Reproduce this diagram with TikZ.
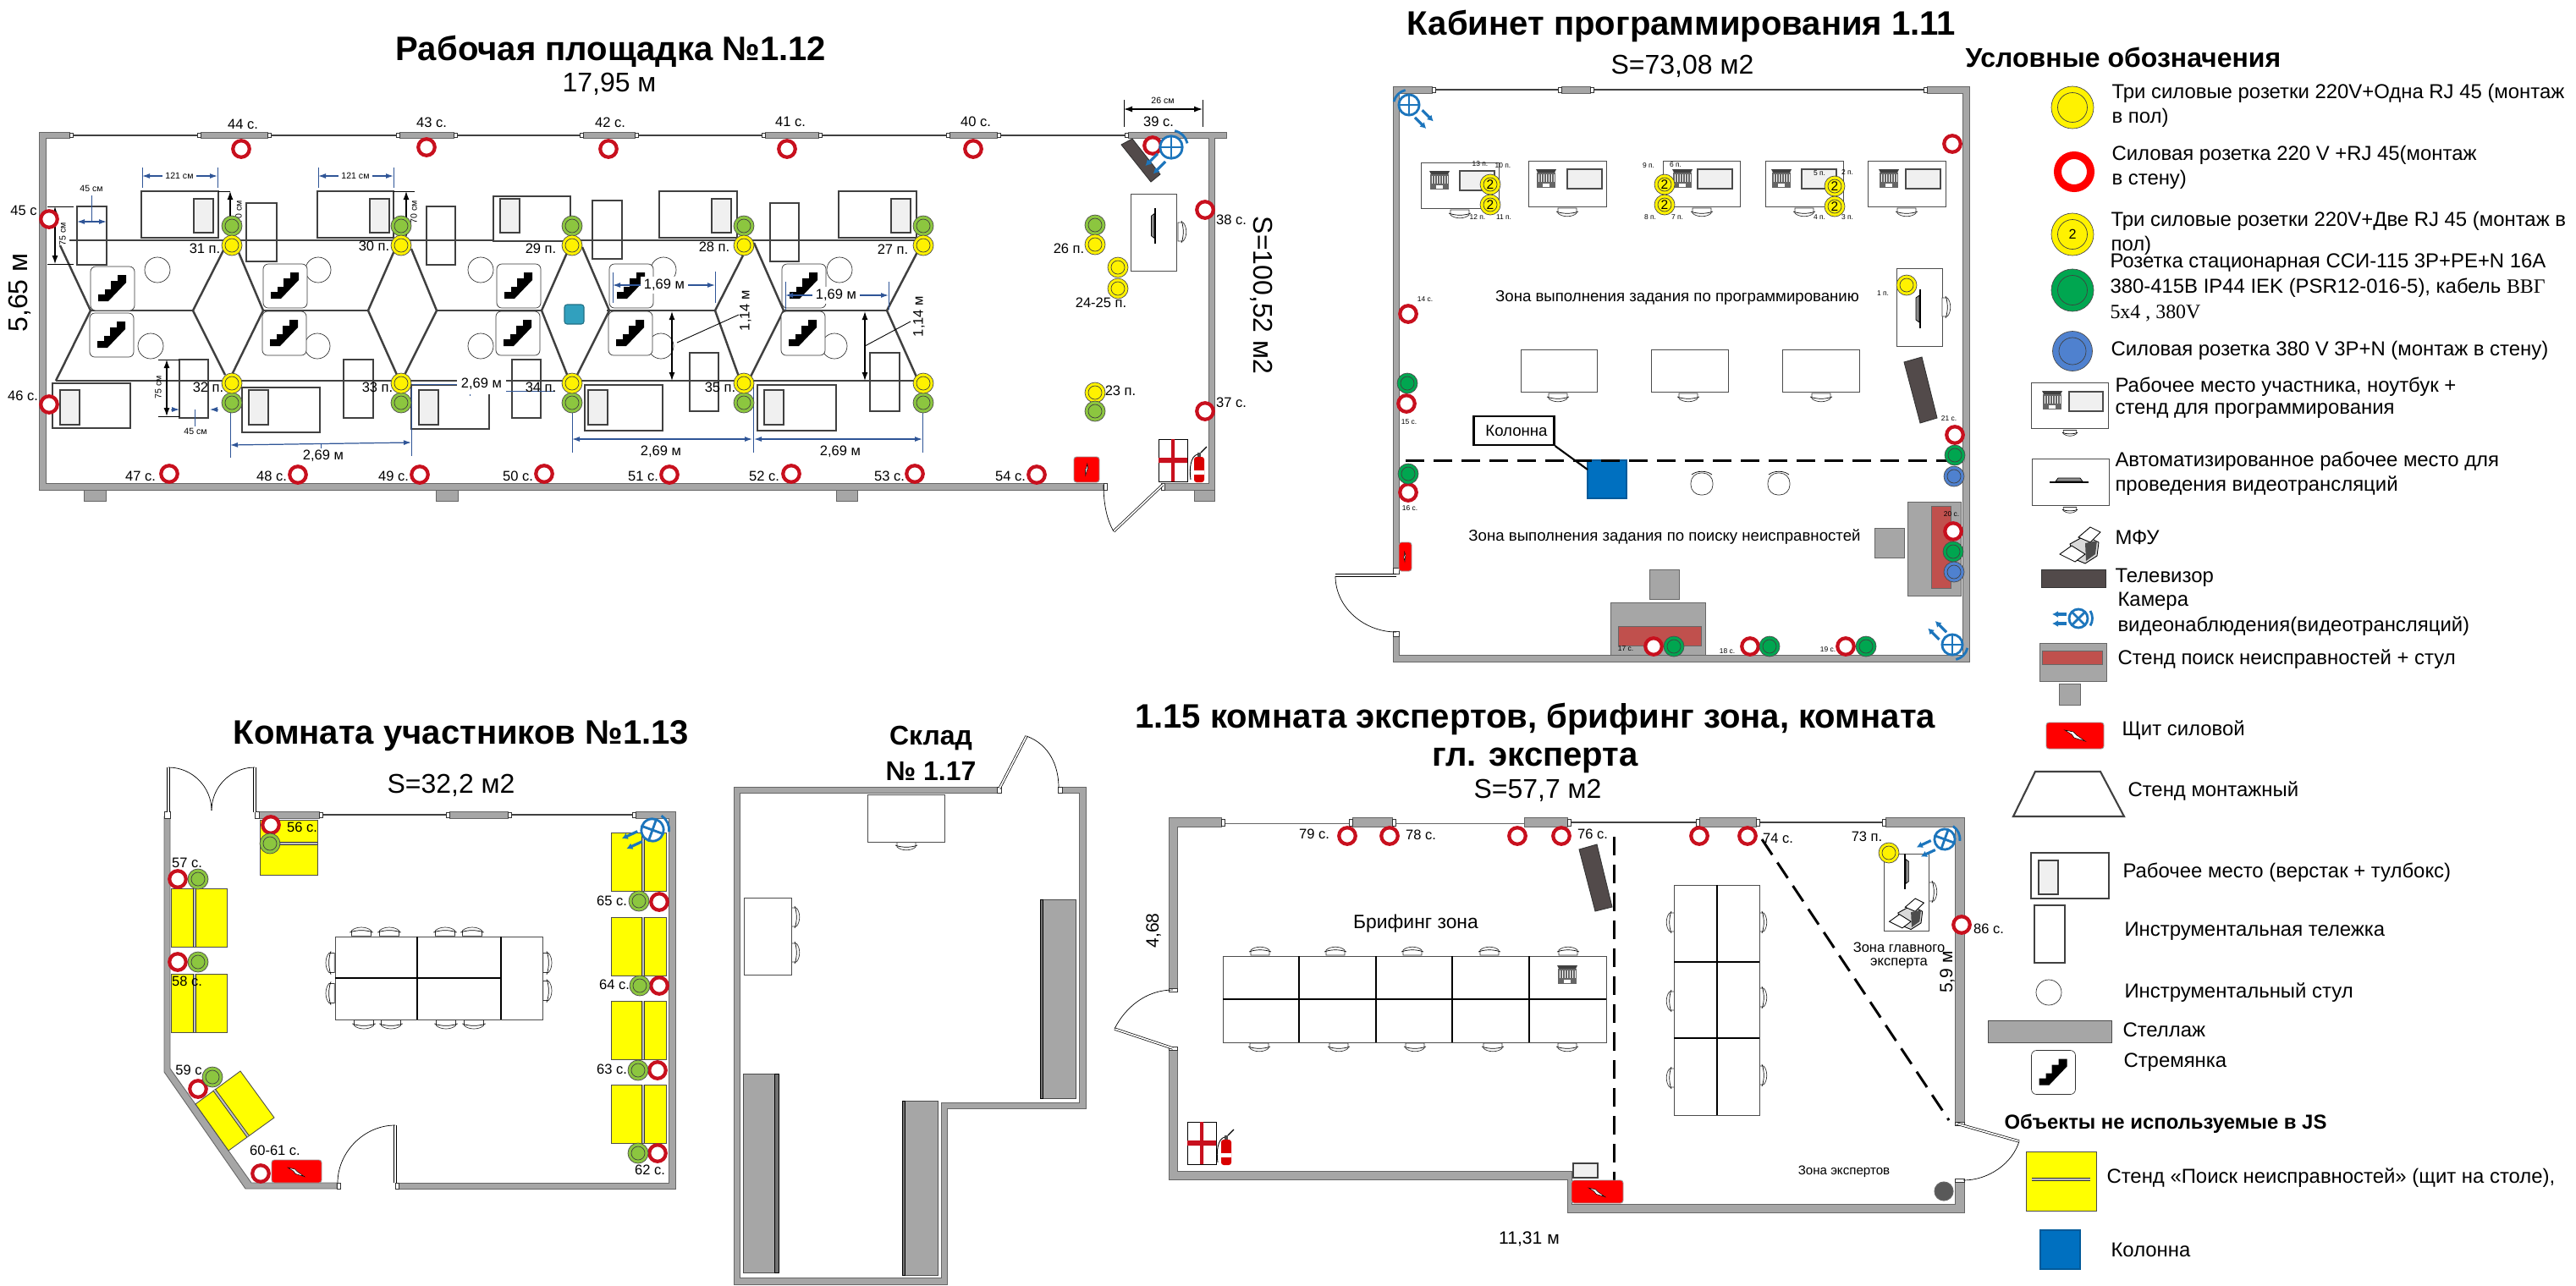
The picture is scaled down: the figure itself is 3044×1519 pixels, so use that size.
\documentclass[tikz,border=0pt]{standalone}
\usepackage{fontspec}
\setmainfont{Liberation Sans}
\newfontfamily\serifpart{Liberation Serif}
\usetikzlibrary{arrows.meta}
\tikzset{every picture/.style={line width=0.3pt}}
\definecolor{wallgray}{HTML}{A6A6A6}
\definecolor{inkgray}{HTML}{404040}
\definecolor{tvgray}{HTML}{524A4A}
\definecolor{ringred}{HTML}{C8101E}
\definecolor{brightred}{HTML}{FF0000}
\definecolor{sockyellow}{HTML}{FFF200}
\definecolor{standyellow}{HTML}{FFFF00}
\definecolor{limegreen}{HTML}{8CC63F}
\definecolor{deepgreen}{HTML}{00A650}
\definecolor{sockblue}{HTML}{4F81CF}
\definecolor{columnblue}{HTML}{0070C0}
\definecolor{tealbox}{HTML}{31A0BE}
\definecolor{dimblue}{HTML}{2F5597}
\definecolor{camblue}{HTML}{1C75BC}
\definecolor{standred}{HTML}{C0504D}
\tikzset{
  walls/.style={fill=wallgray,draw=black!60,line width=0.25pt},
  jamb/.style={fill=white,draw=black!80,line width=0.2pt},
  windowline/.style={draw=black!75,line width=0.4pt},
  doubleglass/.style={draw=black!60,double=white,double distance=0.35pt,line width=0.25pt},
  doorleaf/.style={draw=black,double=white,double distance=0.5pt,line width=0.2pt},
  doorarc/.style={draw=black,line width=0.2pt},
  hexline/.style={draw=inkgray,line width=0.7pt},
  benchline/.style={draw=inkgray,line width=0.75pt,fill=white},
  toolbox/.style={draw=inkgray,fill=black!6,line width=0.3pt},
  cartline/.style={draw=inkgray,line width=0.8pt},
  stoolline/.style={draw=black!80,line width=0.2pt,fill=white},
  desk/.style={draw=black!70,line width=0.25pt,fill=white},
  rackbody/.style={draw=black!70,fill=wallgray,line width=0.25pt},
  rackstrip/.style={draw=black,fill=black!55,line width=0.2pt},
  standbox/.style={draw=black!70,fill=standyellow,line width=0.25pt},
  standbar/.style={draw=black!80,double=black!25,double distance=0.6pt,line width=0.25pt},
  greybox/.style={draw=black!60,fill=wallgray,line width=0.25pt},
  redbox/.style={draw=black!60,fill=standred,line width=0.25pt},
  panelbox/.style={draw=black!40,fill=brightred,rounded corners=0.3mm,line width=0.25pt},
  tvbox/.style={draw=black!80,fill=tvgray,line width=0.25pt},
  dimline/.style={draw=dimblue,line width=0.35pt,{Latex[length=0.9mm,width=0.6mm]}-{Latex[length=0.9mm,width=0.6mm]}},
  dimtick/.style={draw=dimblue,line width=0.25pt},
  blackdim/.style={draw=black,line width=0.35pt,{Latex[length=1mm,width=0.7mm]}-{Latex[length=1mm,width=0.7mm]}},
  blacktick/.style={draw=black,line width=0.25pt},
  dashzone/.style={draw=black,line width=0.85pt,dash pattern=on 2.2mm off 1.1mm},
  sock/.style={circle,draw=black!70,line width=0.2pt,inner sep=0pt,minimum size=2.4mm},
  ring/.style={path picture={\draw[black!75,line width=0.2pt] (path picture bounding box.center) circle (#1);}},
  sockY/.style={sock,fill=sockyellow,ring=0.8mm},
  sockL/.style={sock,fill=limegreen,ring=0.8mm},
  sockG/.style={sock,fill=deepgreen,ring=0.8mm},
  sockB/.style={sock,fill=sockblue,ring=0.8mm},
  sockR/.style={circle,draw=ringred,line width=0.42mm,fill=white,inner sep=0pt,minimum size=1.95mm},
  bigsock/.style={minimum size=5mm,ring=1.75mm},
  titletxt/.style={font=\fontsize{11.4}{13}\selectfont\bfseries,inner sep=0pt},
  areatxt/.style={font=\fontsize{9.1}{11}\selectfont,inner sep=0pt},
  boldarea/.style={font=\fontsize{9.1}{11}\selectfont\bfseries,inner sep=0pt},
  legtxt/.style={font=\fontsize{6.8}{8}\selectfont,anchor=west,inner sep=0pt},
  zonetxt/.style={font=\fontsize{5.3}{6}\selectfont,inner sep=0pt},
  sizetxt/.style={font=\fontsize{6}{7}\selectfont,inner sep=0pt},
  lbl/.style={font=\fontsize{4.7}{5.5}\selectfont,inner sep=0pt},
  dimtxt/.style={font=\fontsize{3}{3.6}\selectfont,inner sep=0pt},
  tinylbl/.style={font=\fontsize{2.4}{3}\selectfont,inner sep=0pt},
  seat/.pic={
    \draw[stoolline] (-11,-5) -- (11,-5) -- (11,1) .. controls (6,6) and (-6,6) .. (-11,1) -- cycle;
    \draw[line width=0.2pt] (-13,-1) .. controls (-6,2) and (6,2) .. (13,-1);
  },
  armseat/.pic={
    \draw[stoolline,rounded corners=1.2mm] (-13,-11) rectangle (13,15);
    \draw[line width=0.2pt] (-12,-9) .. controls (-6,-14) and (6,-14) .. (12,-9);
  },
  laptop/.pic={
    \fill[black!75] (-12,-11) -- (12,-11) -- (10,-7) -- (-10,-7) -- cycle;
    \fill[black!60] (-11,-7) rectangle (11,11);
    \draw[white,line width=0.15pt,step=3] (-9,-5) grid (9,4);
    \fill[white] (-4,6) rectangle (4,10);
  },
  camera/.pic={
    \draw[camblue,line width=0.8pt,fill=white] (0,0) circle (11);
    \draw[camblue,line width=0.8pt] (-7.5,-7.5) -- (7.5,7.5) (-7.5,7.5) -- (7.5,-7.5);
    \draw[camblue,line width=0.8pt] (14,-9) arc (-32:32:16.5);
    \draw[camblue,line width=0.9pt,-{Latex[length=0.7mm,width=0.8mm]}] (-14,-5) -- (-31,-5);
    \draw[camblue,line width=0.9pt,{Latex[length=0.7mm,width=0.8mm]}-] (-31,6) -- (-14,6);
  },
  monitor/.pic={
    \fill[black!45,draw=black,line width=0.2pt] (-16,0) -- (-13,-4) -- (13,-4) -- (16,0) -- cycle;
    \draw[line width=0.5pt] (-23,1) -- (23,1);
  },
  printer/.pic={
    \draw[fill=black!15,line width=0.25pt] (-12,0) -- (6,-10) -- (22,-2) -- (20,14) -- (6,23) -- (-6,18) -- cycle;
    \draw[fill=white,line width=0.25pt] (-2,-8) -- (12,-20) -- (24,-14) -- (12,-2) -- cycle;
    \draw[fill=white,line width=0.25pt] (-24,12) -- (-10,2) -- (6,12) -- (-6,21) -- cycle;
    \fill[black!70] (6,-1) -- (20,-4) -- (18,12) -- (7,20) -- cycle;
  },
  ladderbox/.pic={
    \draw[stoolline,rounded corners=0.6mm] (-26,-26) rectangle (26,26);
    \fill[black] (-17,15) -- (-17,7) -- (-9,7) -- (-9,1) -- (-2,1) -- (-2,-9) -- (6,-9) -- (6,-16) -- (16,-16) -- (16,-7) -- (-5,15) -- cycle;
  },
  boltmark/.pic={
    \draw[fill=white,line width=0.15pt] (-12,-6) -- (-2,-4) -- (2,0) -- (12,7) -- (-1,3) -- (-4,-1) -- cycle;
  },
  firebox/.pic={
    \draw[fill=white,line width=0.25pt] (-17,-25) rectangle (17,25);
    \fill[ringred] (-2,-25) rectangle (2,25) (-17,-3) rectangle (17,3);
  },
  extinguisher/.pic={
    \fill[brightred!85!black,rounded corners=0.3mm] (-6,-9) rectangle (6,21);
    \fill[white] (-6,7) rectangle (6,12);
    \fill[black!70] (-2,-14) rectangle (2,-9);
    \draw[line width=0.25pt] (-2,-12) .. controls (-10,-10) and (-12,5) .. (-10,18);
    \draw[line width=0.35pt] (2,-14) -- (9,-21);
  }
}
\begin{document}
\begin{tikzpicture}[x=0.1mm,y=-0.1mm]
  \useasboundingbox (0,0) rectangle (3044,1519);
  \fill[white] (0,0) rectangle (3044,1519);

  \path (722,61) node[titletxt] (title12) {Рабочая площадка №1.12};
  \path (720,99) node[areatxt] (len12) {17,95 м};
  \path (23,346) node[areatxt,rotate=90] (wid12) {5,65 м};
  \path (1491,349) node[areatxt,rotate=-90] (area12) {S=100,52 м2};
  \draw[windowline] (82,160) -- (1333,160);
  \draw[walls] (82,156) -- (46,156) -- (46,579) -- (1304,579) -- (1304,571) -- (54,571) -- (54,163) -- (82,163) -- cycle;
  \draw[walls] (1333,156) -- (1449,156) -- (1449,163) -- (1435,163) -- (1435,579) -- (1374,579) -- (1374,571) -- (1428,571) -- (1428,163) -- (1333,163) -- cycle;
  \foreach \xa/\xb in {99/125,515/541,988/1013,1411/1435}
    \draw[walls] (\xa,579) rectangle (\xb,592);
  \foreach \xa/\xb in {237/316,472/536,689/750,904/967,1122/1178} {
    \draw[walls] (\xa,156.5) rectangle (\xb,163);
    \draw[jamb] (\xa-4,157) rectangle (\xa,162);
    \draw[jamb] (\xb,157) rectangle (\xb+4,162);
  }
  \draw[jamb] (1329,157) rectangle (1333,162);
  \draw[jamb] (82,157) rectangle (86,162);
  \draw[jamb] (1304,571) rectangle (1308,579);
  \draw[jamb] (1372,571) rectangle (1376,579);
  \draw[doorleaf] (1374,573) -- (1316,628);
  \draw[doorarc] (1304,573) .. controls (1304,595) and (1308,615) .. (1316,628);

  \draw[hexline] (82,284) -- (1091,284) (66,450) -- (1086,450);
  \draw[hexline] (107,367) -- (228,367) (311,367) -- (435,367) (515,367) -- (640,367) (717,367) -- (845,367) (927,367) -- (1048,367);
  \draw[hexline] (71,290) -- (107,367) -- (66,450);
  \draw[hexline] (266,292) -- (228,367) -- (266,443) (281,296) -- (311,367) -- (273,445);
  \draw[hexline] (467,294) -- (435,367) -- (469,443) (486,294) -- (516,367) -- (477,445);
  \draw[hexline] (673,292) -- (640,367) -- (671,445) (688,292) -- (720,367) -- (681,445);
  \draw[hexline] (879,300) -- (845,367) -- (873,445) (891,287) -- (926,367) -- (887,445);
  \draw[hexline] (1084,298) -- (1048,367) -- (1085,450);

  \foreach \xa/\ya/\xb/\yb/\bx in {167/226/258/281/229,375/226/465/281/437,583/232/674/285/591,779/226/871/281/841,991/226/1083/281/1053} {
    \draw[benchline] (\xa,\ya) rectangle (\xb,\yb);
    \draw[toolbox] (\bx,235) rectangle (\bx+23,275);
  }
  \foreach \xa/\ya/\xb/\yb/\bx in {62/453/154/506/71,286/458/378/511/294,486/455/578/507/495,691/455/783/509/695,895/455/988/509/903} {
    \draw[benchline] (\xa,\ya) rectangle (\xb,\yb);
    \draw[toolbox] (\bx,461) rectangle (\bx+23,502);
  }
  \foreach \xa/\ya/\xb/\yb in {91/244/126/313,291/240/327/309,504/244/538/313,700/237/735/306,910/240/944/309,212/425/246/494,406/425/441/494,605/425/639/494,815/417/849/486,1028/417/1063/486}
    \draw[cartline] (\xa,\ya) rectangle (\xb,\yb);
  \foreach \sx/\sy in {186/319,376/319,568/319,784/319,992/319,178/409,375/409,568/409,781/409,986/409}
    \draw[stoolline,fill=none] (\sx,\sy) circle (15);
  \foreach \lx/\ly in {133/341,337/338,613/338,746/338,950/338,132/396,336/394,612/394,745/394,949/394}
    \path (\lx,\ly) pic {ladderbox};
  \draw[draw=tealbox!70!black,fill=tealbox,rounded corners=0.3mm] (667,360) rectangle (690,383);

  \draw[dimtick] (168,198) -- (168,222) (257,198) -- (257,222) (376,198) -- (376,222) (465,198) -- (465,222);
  \draw[dimline] (168,208) -- (257,208);
  \draw[dimline] (376,208) -- (465,208);
  \path (212,208) node[dimtxt,fill=white,inner sep=1pt] (d121a) {121 см};
  \path (420,208) node[dimtxt,fill=white,inner sep=1pt] (d121b) {121 см};
  \path (108,223) node[dimtxt] (d45a) {45 см};
  \draw[dimtick] (108,231) -- (108,262);
  \draw[dimline] (91,262) -- (126,262);
  \draw[blacktick] (56,244) -- (87,244) (56,312) -- (87,312);
  \draw[blackdim] (65,244) -- (65,312);
  \path (74,277) node[dimtxt,rotate=90] (d75a) {75 см};
  \draw[blacktick] (258,226) -- (272,226) (465,226) -- (490,226);
  \draw[blackdim] (272,226) -- (272,281);
  \draw[blackdim] (480,226) -- (480,281);
  \path (282,251) node[dimtxt,rotate=90] (d70a) {70 см};
  \path (489,251) node[dimtxt,rotate=90] (d70b) {70 см};
  \draw[blacktick] (187,425) -- (212,425) (187,492) -- (212,492);
  \draw[blackdim] (197,425) -- (197,492);
  \path (187,458) node[dimtxt,rotate=90] (d75b) {75 см};
  \draw[dimtick,-{Latex[length=0.9mm,width=0.6mm]}] (202,484) -- (212,484);
  \draw[dimtick,-{Latex[length=0.9mm,width=0.6mm]}] (258,484) -- (248,484);
  \draw[dimtick] (230,484) -- (230,504);
  \path (231,510) node[dimtxt] (d45b) {45 см};
  \draw[dimtick] (272,460) -- (272,541) (486,458) -- (486,539);
  \draw[dimline] (272,526) -- (486,523);
  \draw[dimtick] (379,525) -- (379,530);
  \path (382,539) node[lbl] (d269a) {2,69 м};
  \draw[dimtick] (487,454) -- (546,454) (593,462) -- (656,462) (555,462) -- (555,468);
  \path (569,454) node[lbl,fill=white,inner sep=1.5pt] (d269b) {2,69 м};
  \draw[dimtick] (676,462) -- (676,535) (890,455) -- (890,535) (1090,455) -- (1090,535);
  \draw[dimline] (676,519) -- (889,519);
  \draw[dimline] (891,519) -- (1090,519);
  \path (781,534) node[lbl] (d269c) {2,69 м};
  \path (993,534) node[lbl] (d269d) {2,69 м};
  \draw[dimtick] (724,322) -- (724,358) (845,321) -- (845,358);
  \draw[dimline] (724,337) -- (845,337);
  \path (785,337) node[lbl,fill=white,inner sep=1pt] (d169a) {1,69 м};
  \draw[dimtick] (928,333) -- (928,366) (1050,333) -- (1050,366);
  \draw[dimline] (928,349) -- (1050,349);
  \path (988,349) node[lbl,fill=white,inner sep=1pt] (d169b) {1,69 м};
  \draw[blackdim] (794,368) -- (794,450);
  \draw[blackdim] (1022,368) -- (1022,450);
  \draw[blacktick] (800,405) -- (873,372) (1022,409) -- (1076,380);
  \path (881,367) node[lbl,rotate=90] (d114a) {1,14 м};
  \path (1086,374) node[lbl,rotate=90] (d114b) {1,14 м};
  \draw[blacktick] (1328,118) -- (1328,150) (1421,118) -- (1421,150);
  \draw[blackdim] (1328,129) -- (1421,129);
  \path (1374,119) node[dimtxt] (d26) {26 см};

  \draw[desk] (1336,229) rectangle (1390,320);
  \path (1364,267) pic[rotate=90,scale=0.9] {monitor};
  \path (1397,274) pic[rotate=90] {seat};
  \draw[tvbox] (1325,171) -- (1338,164) -- (1371,206) -- (1360,215) -- cycle;
  \draw[panelbox] (1269,540) rectangle (1299,570);
  \path (1284,555) pic[rotate=-70,scale=0.5] {boltmark};
  \path (1386,544) pic {firebox};
  \path (1417,549) pic {extinguisher};

  \foreach \nm/\sx/\sy in {44/285/176,43/504/174,42/719/176,41/930/176,40/1150/176,39/1362/172,38/1424/248,37/1424/486,45/58/259,46/58/478,47/200/560,48/352/561,49/496/561,50/643/560,51/791/561,52/935/560,53/1081/560,54/1225/561}
    \path (\sx,\sy) node[sockR] (red\nm) {};
  \path (1384,174) pic[rotate=45,scale=1.2] {camera};
  \foreach \nm/\sx in {31/274,30/474,29/676,28/879,27/1091} {
    \path (\sx,267) node[sockL] (lime\nm) {};
    \path (\sx,290) node[sockY] (yel\nm) {};
  }
  \foreach \nm/\sx in {32/274,33/474,34/676,35/879,36/1091} {
    \path (\sx,476) node[sockL] (lime\nm) {};
    \path (\sx,453) node[sockY] (yel\nm) {};
  }
  \path (1294,266) node[sockL] (lime26) {};
  \path (1294,289) node[sockY] (yel26) {};
  \path (1321,316) node[sockY] (yel25) {};
  \path (1321,341) node[sockY] (yel24) {};
  \path (1294,464) node[sockY] (yel23) {};
  \path (1294,486) node[sockL] (lime23) {};
  \foreach \nm/\lx/\ly/\txt in {31/242/294/31 п.,30/442/291/30 п.,29/639/294/29 п.,28/844/292/28 п.,27/1055/295/27 п.,32/246/458/32 п.,33/446/458/33 п.,34/639/458/34 п.,35/851/458/35 п.,26/1263/294/26 п.,24/1301/358/24-25 п.,23/1324/462/23 п.,44/287/147/44 с.,43/510/145/43 с.,42/721/145/42 с.,41/934/144/41 с.,40/1153/144/40 с.,39/1369/144/39 с.,45/28/249/45 с,46/27/468/46 с.,47/166/563/47 с.,48/321/563/48 с.,49/465/563/49 с.,50/612/563/50 с.,51/760/563/51 с.,52/903/563/52 с.,53/1051/563/53 с.,54/1194/563/54 с.,38/1455/260/38 с.,37/1455/476/37 с.}
    \path (\lx,\ly) node[lbl] (txt\nm) {\txt};

  \path (1987,31) node[titletxt] (title11) {Кабинет программирования 1.11};
  \path (1988,78) node[areatxt] (area11) {S=73,08 м2};
  \draw[windowline] (1692,106) -- (2277,106);
  \draw[walls] (1692,102) -- (1646,102) -- (1646,676) -- (1653,676) -- (1653,110) -- (1692,110) -- cycle;
  \draw[walls] (2277,102) -- (2327,102) -- (2327,782) -- (1646,782) -- (1646,750) -- (1653,750) -- (1653,774) -- (2319,774) -- (2319,110) -- (2277,110) -- cycle;
  \draw[walls] (1845,102) rectangle (1879,110);
  \foreach \xa in {1692,1841,1879,2273}
    \draw[jamb] (\xa,103) rectangle (\xa+4,109);
  \draw[jamb] (1646,671) rectangle (1653,678);
  \draw[jamb] (1646,746) rectangle (1653,752);
  \draw[doorleaf] (1650,680) -- (1578,680);
  \draw[doorarc] (1578,681) .. controls (1578,718) and (1612,747) .. (1650,747);
  \foreach \xa/\ya/\xb/\yb/\lapx/\pana/\sx in {1679/192/1771/246/1701/1725/1725,1806/190/1898/244/1827/1852/1852,1965/190/2056/244/1988/2006/2011,2086/190/2178/244/2105/2129/2132,2207/190/2299/244/2232/2252/2253} {
    \path (\sx,\yb+7) pic {seat};
    \draw[desk] (\xa,\ya) rectangle (\xb,\yb);
    \path (\lapx,\ya+21) pic {laptop};
    \draw[toolbox,draw=black!70] (\pana,\ya+10) rectangle (\pana+41,\ya+33);
  }
  \foreach \xa/\xb/\sx in {1797/1887/1841,1951/2042/1995,2106/2197/2152} {
    \path (\sx,470) pic {seat};
    \draw[desk] (\xa,413) rectangle (\xb,463);
  }
  \draw[desk] (2241,317) rectangle (2295,409);
  \path (2268,365) pic[rotate=90] {monitor};
  \path (2300,363) pic[rotate=90] {seat};
  \draw[tvbox] (2250,428) -- (2271,422) -- (2289,494) -- (2269,500) -- cycle;
  \path (1789,509) node[draw=black,line width=0.6pt,minimum width=9.5mm,minimum height=3.4mm,zonetxt,inner sep=0pt] (colbox) {\hspace{0.6mm}Колонна};
  \draw[fill=columnblue,draw=columnblue!80!black] (1876,544) rectangle (1922,589);
  \coordinate (colpin) at (1876,555);
  \draw[line width=0.6pt] (colbox.south east) -- (colpin);
  \draw[dashzone] (1661,544) -- (2321,544);
  \path (2011,570) pic {armseat};
  \path (2102,570) pic {armseat};
  \path (1982,352) node[zonetxt] (zoneprog) {Зона выполнения задания по программированию};
  \path (1967,635) node[zonetxt] (zonefault) {Зона выполнения задания по поиску неисправностей};
  \draw[greybox] (2254,593) rectangle (2317,704);
  \draw[redbox] (2282,598) rectangle (2305,695);
  \draw[greybox] (2215,624) rectangle (2250,659);
  \draw[greybox] (1903,712) rectangle (2015,774);
  \draw[redbox] (1912,740) rectangle (2010,763);
  \draw[greybox] (1949,673) rectangle (1984,708);
  \draw[panelbox] (1653,641) rectangle (1668,675);
  \path (1660,658) pic[rotate=-60,scale=0.4] {boltmark};
  \path (1665,124) pic[rotate=135,scale=1.1] {camera};
  \path (2307,762) pic[rotate=-45,scale=1.1] {camera};
  \foreach \nm/\sx/\sy in {a/1761/218,b/1761/242,c/1967/218,d/1967/242,e/2168/220,f/2168/244}
    \path (\sx,\sy) node[sockY,font=\fontsize{4.4}{5}\selectfont] (two\nm) {2};
  \path (2253,337) node[sockY] (yel1) {};
  \foreach \nm/\sx/\sy in {70/2307/170,14/1664/371,15/1662/477,16/1664/582,21/2310/514,20/2308/628,17/1954/764,18/2068/764,19/2181/764}
    \path (\sx,\sy) node[sockR] (red\nm) {};
  \foreach \nm/\sx/\sy in {15/1663/453,16/1664/560,21/2310/538,20/2308/652,17/1978/764,18/2091/764,19/2205/764}
    \path (\sx,\sy) node[sockG] (green\nm) {};
  \path (2309,563) node[sockB] (blue21) {};
  \path (2309,676) node[sockB] (blue20) {};
  \foreach \nm/\lx/\ly/\txt in {a/1749/194/13 п.,b/1776/196/10 п.,c/1746/257/12 п.,d/1777/257/11 п.,e/1948/196/9 п.,f/1980/195/6 п.,g/1950/257/8 п.,h/1982/257/7 п.,i/2150/205/5 п.,j/2183/204/2 п.,k/2150/257/4 п.,l/2183/257/3 п.,m/2225/347/1 п.,n/1684/354/14 с.,o/1665/499/15 с.,p/1666/601/16 с.,q/2303/495/21 с.,r/2306/608/20 с.,s/1921/767/17 с.,t/2041/770/18 с.,u/2160/768/19 с.}
    \path (\lx,\ly) node[tinylbl] (tiny\nm) {\txt};

  \path (2322,68) node[boldarea,anchor=west] (legtitle) {Условные обозначения};
  \path (2449,127) node[sockY,bigsock] (legyel) {};
  \path (2451,203) node[sockR,draw=brightred,line width=0.9mm,minimum size=3.9mm] (legred) {};
  \path (2449,277) node[sockY,bigsock,font=\fontsize{4.6}{5}\selectfont] (legtwo) {2};
  \path (2449,343) node[sockG,bigsock] (leggreen) {};
  \path (2449,415) node[sockB,minimum size=4.7mm,ring=1.6mm] (legblue) {};
  \path (2495,110) node[legtxt] (ta) {Три силовые розетки 220V+Одна RJ 45 (монтаж};
  \path (2495,139) node[legtxt] (tb) {в пол)};
  \path (2495,183) node[legtxt] (tc) {Силовая розетка 220 V +RJ 45(монтаж};
  \path (2495,212) node[legtxt] (td) {в стену)};
  \path (2494,261) node[legtxt] (te) {Три силовые розетки 220V+Две RJ 45 (монтаж в};
  \path (2494,290) node[legtxt] (tf) {пол)};
  \path (2493,311) node[legtxt] (tg) {Розетка стационарная ССИ-115 3Р+РЕ+N 16А};
  \path (2493,340) node[legtxt] (th) {380-415В IP44 IEK (PSR12-016-5), кабель {\serifpart ВВГ}};
  \path (2493,370) node[legtxt] (ti) {\serifpart 5х4 , 380V};
  \path (2494,414) node[legtxt] (tj) {Силовая розетка 380 V 3Р+N (монтаж в стену)};
  \path (2446,512) pic[scale=0.7] {seat};
  \draw[desk] (2400,452) rectangle (2491,506);
  \path (2425,473) pic {laptop};
  \draw[toolbox,draw=black!70] (2445,463) rectangle (2485,486);
  \path (2499,457) node[legtxt] (tk) {Рабочее место участника, ноутбук +};
  \path (2499,486) node[legtxt] (tl) {стенд для программирования};
  \path (2446,603) pic[scale=0.7] {seat};
  \draw[desk] (2401,542) rectangle (2492,597);
  \path (2445,569) pic {monitor};
  \path (2499,545) node[legtxt] (tm) {Автоматизированное рабочее место для};
  \path (2499,574) node[legtxt] (tn) {проведения видеотрансляций};
  \path (2458,643) pic {printer};
  \path (2499,635) node[legtxt] (to) {МФУ};
  \draw[tvbox] (2412,673) rectangle (2488,694);
  \path (2499,683) node[legtxt] (tp) {Телевизор};
  \path (2456,731) pic {camera};
  \path (2502,711) node[legtxt] (tq) {Камера};
  \path (2502,740) node[legtxt] (tr) {видеонаблюдения(видеотрансляций)};
  \draw[greybox] (2410,760) rectangle (2489,805);
  \draw[redbox] (2413,769) rectangle (2484,785);
  \draw[greybox] (2433,808) rectangle (2458,833);
  \path (2502,779) node[legtxt] (ts) {Стенд поиск неисправностей + стул};
  \draw[panelbox] (2418,854) rectangle (2486,885);
  \path (2452,869) pic {boltmark};
  \path (2507,863) node[legtxt] (tt) {Щит силовой};
  \draw[draw=inkgray,line width=0.6pt] (2379,965) -- (2405,912) -- (2482,912) -- (2510,965) -- cycle;
  \path (2514,935) node[legtxt] (tu) {Стенд монтажный};
  \draw[benchline] (2400,1008) rectangle (2492,1062);
  \draw[toolbox] (2409,1017) rectangle (2432,1057);
  \path (2508,1031) node[legtxt] (tv) {Рабочее место (верстак + тулбокс)};
  \draw[cartline] (2404,1070) rectangle (2440,1138);
  \path (2510,1101) node[legtxt] (tw) {Инструментальная тележка};
  \draw[stoolline] (2421,1173) circle (15);
  \path (2510,1173) node[legtxt] (tx) {Инструментальный стул};
  \draw[rackbody] (2349,1206) rectangle (2495,1232);
  \path (2508,1217) node[legtxt] (ty) {Стеллаж};
  \path (2426.5,1267.5) pic {ladderbox};
  \path (2509,1256) node[legtxt] (tz) {Стремянка};
  \path (2368,1328) node[legtxt,font=\fontsize{6.8}{8}\selectfont\bfseries] (tnot) {Объекты не используемые в JS};
  \draw[standbox] (2394,1361) rectangle (2477,1431);
  \draw[standbar] (2401,1394) -- (2470,1394);
  \path (2489,1392) node[legtxt] (tstand) {Стенд «Поиск неисправностей» (щит на столе),};
  \draw[fill=columnblue,draw=columnblue!80!black] (2411,1454) rectangle (2458,1500);
  \path (2494,1477) node[legtxt] (tcol) {Колонна};

  \path (545,870) node[titletxt] (title13) {Комната участников №1.13};
  \path (533,928) node[areatxt] (area13) {S=32,2 м2};
  \draw[windowline] (377,963) -- (531,963) (600,963) -- (751,963);
  \draw[walls] (194,965) -- (201,965) -- (201,1263) -- (297,1398) -- (398,1398) -- (398,1405) -- (290,1405) -- (194,1267) -- cycle;
  \draw[walls] (471,1398) -- (790,1398) -- (790,967) -- (751,967) -- (751,959) -- (798,959) -- (798,1405) -- (471,1405) -- cycle;
  \draw[walls] (306,959) rectangle (377,967);
  \draw[walls] (531,959) rectangle (600,967);
  \foreach \xa in {377,527,600,747}
    \draw[jamb] (\xa,960) rectangle (\xa+4,966);
  \draw[jamb] (194,959) rectangle (201,967);
  \draw[jamb] (301,959) rectangle (306,967);
  \draw[jamb] (398,1398) rectangle (402,1405);
  \draw[jamb] (467,1398) rectangle (471,1405);
  \draw[doorleaf] (199,960) -- (199,907);
  \draw[doorleaf] (301,960) -- (301,907);
  \draw[doorarc] (199,907) .. controls (227,907) and (250,930) .. (250,958);
  \draw[doorarc] (301,907) .. controls (273,907) and (250,930) .. (250,958);
  \draw[doorleaf] (467,1398) -- (467,1330);
  \draw[doorarc] (467,1330) .. controls (430,1330) and (399,1362) .. (399,1398);
  \draw[standbox] (307,969) rectangle (375,1034);
  \draw[standbar] (307,997) -- (375,997);
  \foreach \ya/\yb in {1050/1119,1151/1220} {
    \draw[standbox] (202,\ya) rectangle (268,\yb);
    \draw[standbar] (230,\ya) -- (230,\yb);
  }
  \foreach \ya/\yb in {984/1053,1084/1153,1183/1252,1282/1351} {
    \draw[standbox] (722,\ya) rectangle (787,\yb);
    \draw[standbar] (760,\ya) -- (760,\yb);
  }
  \draw[standbox] (284,1266) -- (324,1321) -- (270,1360) -- (231,1305) -- cycle;
  \draw[standbar] (253,1288) -- (293,1343);
  \draw[desk] (396,1107) rectangle (641,1205);
  \draw[line width=0.3pt] (493,1107) -- (493,1205) (592,1107) -- (592,1205) (396,1156) -- (592,1156);
  \foreach \sx in {427,460,526,558}
    \path (\sx,1101) pic[rotate=180,scale=1.05] {seat};
  \foreach \sx in {430,462,527,560}
    \path (\sx,1211) pic[scale=1.05] {seat};
  \foreach \sy in {1138,1174}
    \path (390,\sy) pic[rotate=-90,scale=1.05] {seat};
  \foreach \sy in {1138,1171}
    \path (647,\sy) pic[rotate=90,scale=1.05] {seat};
  \draw[panelbox] (321,1371) rectangle (380,1398);
  \path (350,1385) pic[scale=0.8] {boltmark};
  \path (771,981) pic[rotate=25,scale=1.2] {camera};
  \foreach \nm/\sx/\sy in {56/320/975,57/210/1039,58/210/1137,59/234/1287,60/308/1387,65/779/1066,64/779/1165,63/777/1265,62/777/1363}
    \path (\sx,\sy) node[sockR] (red\nm) {};
  \foreach \nm/\sx/\sy in {56/319/997,57/234/1039,58/234/1137,59/251/1273,65/755/1065,64/756/1165,63/754/1265,62/754/1363}
    \path (\sx,\sy) node[sockL] (lime\nm) {};
  \foreach \nm/\lx/\ly/\txt in {56/357/978/56 с.,57/221/1020/57 с.,58/221/1160/58 с.,59/223/1265/59 с,60/325/1360/60-61 с.,65/723/1065/65 с.,64/726/1164/64 с.,63/723/1264/63 с.,62/768/1383/62 с.}
    \path (\lx,\ly) node[lbl] (txt\nm) {\txt};

  \path (1100,873) node[boldarea] (title17a) {Склад};
  \path (1100,911) node[boldarea] (title17b) {№ 1.17};
  \draw[walls] (1178,930) -- (867,930) -- (867,1518) -- (1119,1518) -- (1119,1310) -- (1283,1310) -- (1283,930) -- (1255,930) -- (1255,937) -- (1275,937) -- (1275,1303) -- (1112,1303) -- (1112,1510) -- (874,1510) -- (874,937) -- (1178,937) -- cycle;
  \draw[jamb] (1178,930) rectangle (1183,937);
  \draw[jamb] (1250,930) rectangle (1255,937);
  \draw[doorleaf] (1181,932) -- (1213,870);
  \draw[doorarc] (1213,870) .. controls (1240,880) and (1251,905) .. (1251,931);
  \path (1071,1000) pic {seat};
  \draw[desk] (1025,939) rectangle (1116,995);
  \path (940,1084) pic[rotate=90] {seat};
  \path (940,1126) pic[rotate=90] {seat};
  \draw[desk] (879,1061) rectangle (935,1152);
  \draw[rackbody] (1229,1063) rectangle (1271,1298);
  \draw[rackstrip] (1229,1063) rectangle (1232,1298);
  \draw[rackbody] (878,1269) rectangle (920,1504);
  \draw[rackstrip] (915,1269) rectangle (920,1504);
  \draw[rackbody] (1066,1301) rectangle (1108,1507);
  \draw[rackstrip] (1066,1301) rectangle (1069,1507);

  \path (1814,850) node[titletxt] (title15a) {1.15 комната экспертов, брифинг зона, комната};
  \path (1814,899) node[titletxt] (title15b) {гл. эксперта};
  \path (1817,934) node[areatxt] (area15) {S=57,7 м2};
  \draw[doubleglass] (1443,972) -- (1598,972) (1645,972) -- (1801,972);
  \draw[windowline] (1852,972) -- (2008,972) (2075,972) -- (2228,972);
  \draw[walls] (1443,966) -- (1381,966) -- (1381,1168) -- (1391,1168) -- (1391,977) -- (1443,977) -- cycle;
  \draw[walls] (1381,1241) -- (1381,1394) -- (1852,1394) -- (1852,1433) -- (2321,1433) -- (2321,1397) -- (2310,1397) -- (2310,1423) -- (1857,1423) -- (1857,1384) -- (1391,1384) -- (1391,1241) -- cycle;
  \draw[walls] (2228,966) -- (2321,966) -- (2321,1326) -- (2310,1326) -- (2310,977) -- (2228,977) -- cycle;
  \foreach \xa/\xb in {1598/1645,1801/1852,2008/2075}
    \draw[walls] (\xa,966) rectangle (\xb,977);
  \foreach \xa in {1443,1594,1645,1852,2004,2075,2224}
    \draw[jamb] (\xa,968) rectangle (\xa+4,976);
  \draw[jamb] (1381,1168) rectangle (1391,1172);
  \draw[jamb] (1381,1237) rectangle (1391,1241);
  \draw[jamb] (2310,1326) rectangle (2321,1330);
  \draw[jamb] (2310,1393) rectangle (2321,1397);
  \draw[doorleaf] (1386,1239) -- (1317,1216);
  \draw[doorarc] (1317,1216) .. controls (1330,1190) and (1355,1170) .. (1386,1170);
  \draw[doorleaf] (2312,1328) -- (2386,1349);
  \draw[doorarc] (2386,1349) .. controls (2378,1375) and (2350,1395) .. (2320,1395);
  \foreach \sx in {1489,1578,1669,1760,1853}
    \path (\sx,1124) pic[rotate=180] {seat};
  \foreach \sx in {1488,1582,1672,1764,1852}
    \path (\sx,1238) pic {seat};
  \draw[desk] (1445,1130) rectangle (1898,1232);
  \draw[line width=0.3pt] (1535,1130) -- (1535,1232) (1626,1130) -- (1626,1232) (1716,1130) -- (1716,1232) (1807,1130) -- (1807,1232) (1445,1181) -- (1898,1181);
  \path (1852,1152) pic {laptop};
  \foreach \sy in {1090,1183,1274}
    \path (1974,\sy) pic[rotate=-90] {seat};
  \foreach \sy in {1090,1179,1271}
    \path (2083,\sy) pic[rotate=90] {seat};
  \draw[desk] (1978,1046) rectangle (2079,1318);
  \draw[line width=0.3pt] (2029,1046) -- (2029,1318) (1978,1137) -- (2079,1137) (1978,1227) -- (2079,1227);
  \path (2284,1054) pic[rotate=90] {seat};
  \draw[desk] (2226,1009) rectangle (2279,1100);
  \path (2252,1030) pic[rotate=-90,scale=0.9] {monitor};
  \path (2253,1079) pic[scale=0.85] {printer};
  \draw[tvbox] (1866,1004) -- (1887,998) -- (1905,1072) -- (1885,1077) -- cycle;
  \draw[dashzone] (1907,989) -- (1907,1395);
  \draw[dashzone] (2082,992) -- (2303,1324);
  \draw[toolbox] (1859,1375) rectangle (1888,1392);
  \draw[panelbox] (1857,1395) rectangle (1918,1422);
  \path (1887,1409) pic[scale=0.8] {boltmark};
  \path (1420,1351) pic {firebox};
  \path (1449,1356) pic {extinguisher};
  \path (2297,1408) node[circle,draw=black!60,fill=black!65,inner sep=0pt,minimum size=2.2mm] (bin) {};
  \path (2298,992) pic[rotate=25,scale=1.1] {camera};
  \foreach \nm/\sx/\sy in {79/1592/988,78/1642/988,77/1793/988,76/1845/988,75/2008/988,74/2065/988,86/2318/1093}
    \path (\sx,\sy) node[sockR] (red\nm) {};
  \path (2232,1008) node[sockY] (yel73) {};
  \foreach \nm/\lx/\ly/\txt in {79/1553/986/79 с.,78/1679/987/78 с.,76/1882/986/76 с.,74/2101/991/74 с.,73/2206/989/73 п.}
    \path (\lx,\ly) node[lbl] (txt\nm) {\txt};
  \path (2350,1098) node[lbl] (txt86) {86 с.};
  \path (1673,1092) node[sizetxt,font=\fontsize{6.5}{8}\selectfont] (zonebrief) {Брифинг зона};
  \path (2244,1120) node[lbl] (zonechiefa) {Зона главного};
  \path (2244,1139) node[lbl] (zonechiefb) {эксперта};
  \path (2179,1385) node[lbl,font=\fontsize{4.3}{5}\selectfont] (zoneexp) {Зона экспертов};
  \path (2301,1149) node[sizetxt,rotate=90] (wid15b) {5,9 м};
  \path (1363,1100) node[sizetxt,rotate=90] (wid15a) {4,68};
  \path (1807,1464) node[sizetxt] (len15) {11,31 м};
\end{tikzpicture}
\end{document}
